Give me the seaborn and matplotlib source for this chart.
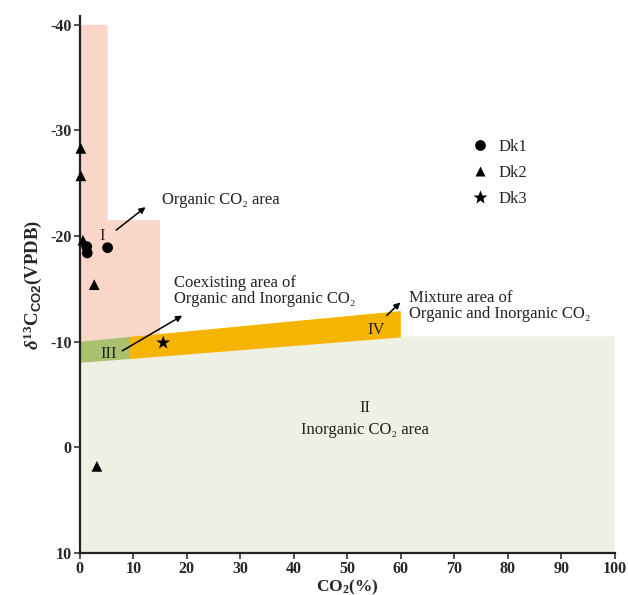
import numpy as np
import pandas as pd
import seaborn as sns
import matplotlib.pyplot as plt

# sample points (CO2 %, d13C CO2 per mil)
dk1_x = [1.3, 1.4, 5.2]
dk1_y = [-19.0, -18.4, -18.9]
dk2_x = [0.2, 0.2, 0.6, 2.7, 3.2]
dk2_y = [-28.3, -25.7, -19.6, -15.4, 1.8]
dk3_x = [15.6]
dk3_y = [-9.9]

# region outlines
organic_x = [0, 5.2, 5.2, 15, 15, 0]
organic_y = [-40, -40, -21.5, -21.5, -10.7, -10.0]
coexist_x = [0, 9.2, 9.2, 0]
coexist_y = [-8.0, -8.35, -10.45, -10.0]
mixture_x = [9.2, 60, 60, 9.2]
mixture_y = [-8.35, -10.4, -12.9, -10.45]
inorganic_x = [0, 100, 100, 60, 0]
inorganic_y = [10, 10, -10.5, -10.5, -8.0]

df = pd.DataFrame({
    'co2': dk1_x + dk2_x + dk3_x,
    'd13c': dk1_y + dk2_y + dk3_y,
    'well': ['Dk1'] * len(dk1_x) + ['Dk2'] * len(dk2_x) + ['Dk3'] * len(dk3_x),
})

sns.set_style('ticks')
plt.rcParams['font.family'] = ['Liberation Serif', 'DejaVu Serif']
plt.rcParams['axes.unicode_minus'] = False
plt.rcParams['mathtext.fontset'] = 'custom'
plt.rcParams['mathtext.rm'] = 'Liberation Serif:bold'
plt.rcParams['mathtext.it'] = 'Liberation Serif:italic:bold'
plt.rcParams['mathtext.sf'] = 'Liberation Sans:bold'

fig = plt.figure(figsize=(6.28, 5.95), dpi=100)
ax = fig.add_axes([0.127, 0.0706, 0.852, 0.902])

ax.fill(inorganic_x, inorganic_y, color='#eff0e4', lw=0, zorder=1)
ax.fill(organic_x, organic_y, color='#f9d6c8', lw=0, zorder=1)
ax.fill(coexist_x, coexist_y, color='#a9c06e', lw=0, zorder=1)
ax.fill(mixture_x, mixture_y, color='#f5b400', lw=0, zorder=1)

sns.scatterplot(data=df, x='co2', y='d13c', hue='well', style='well',
                palette=['black', 'black', 'black'],
                markers={'Dk1': 'o', 'Dk2': '^', 'Dk3': '*'},
                size='well', sizes={'Dk1': 60, 'Dk2': 60, 'Dk3': 110},
                edgecolor='none', clip_on=False, ax=ax, zorder=3)

ax.set_xlim(0, 100)
ax.set_ylim(10, -40.8)
ax.set_xticks(np.arange(0, 101, 10))
ax.set_yticks([-40, -30, -20, -10, 0, 10])
for lab in ax.get_xticklabels() + ax.get_yticklabels():
    lab.set_fontweight('bold')
    lab.set_fontsize(11.5)
ax.tick_params(length=4, width=1.2, color='#333333', pad=2)
sns.despine(ax=ax)
for s in ['left', 'bottom']:
    ax.spines[s].set_linewidth(1.6)
    ax.spines[s].set_color('#222222')

ax.set_xlabel(r'CO$_{\rm 2}$(%)', fontsize=12.5, fontweight='bold', labelpad=0)
ax.set_ylabel(r'$\delta^{\rm 13}\rm{C}_{\mathsf{CO2}}\rm{(VPDB)}$', fontsize=13.5, labelpad=4)

txt = dict(fontsize=12, color='#222222', zorder=4)
arr = dict(arrowstyle='-|>', color='black', lw=1.1, mutation_scale=9)

ax.text(4.2, -20.0, 'I', ha='center', va='center', **txt)
ax.annotate('', xy=(12.7, -22.9), xytext=(6.4, -20.4), arrowprops=arr, zorder=4)
ax.text(15.4, -23.4, 'Organic CO₂ area', ha='left', va='center', **txt)

ax.text(5.4, -8.8, 'III', ha='center', va='center', **txt)
ax.annotate('', xy=(19.6, -12.6), xytext=(7.5, -9.0), arrowprops=arr, zorder=4)
ax.text(17.6, -14.8, 'Coexisting area of\nOrganic and Inorganic CO₂', ha='left',
        va='center', linespacing=1.0, **txt)

ax.text(55.3, -11.1, 'IV', ha='center', va='center', **txt)
ax.annotate('', xy=(60.3, -13.9), xytext=(57.0, -12.3), arrowprops=arr, zorder=4)
ax.text(61.6, -13.4, 'Mixture area of\nOrganic and Inorganic CO₂', ha='left',
        va='center', linespacing=1.0, **txt)

ax.text(53.3, -3.7, 'II', ha='center', va='center', **txt)
ax.text(53.3, -1.6, 'Inorganic CO₂ area', ha='center', va='center', **txt)

handles, labels = ax.get_legend_handles_labels()
ax.legend(handles, labels, frameon=False, loc='upper left',
          bbox_to_anchor=(0.688, 0.80), fontsize=12, handletextpad=0.15,
          labelspacing=0.6, markerscale=1.0)

fig.savefig('out.png', dpi=100)
